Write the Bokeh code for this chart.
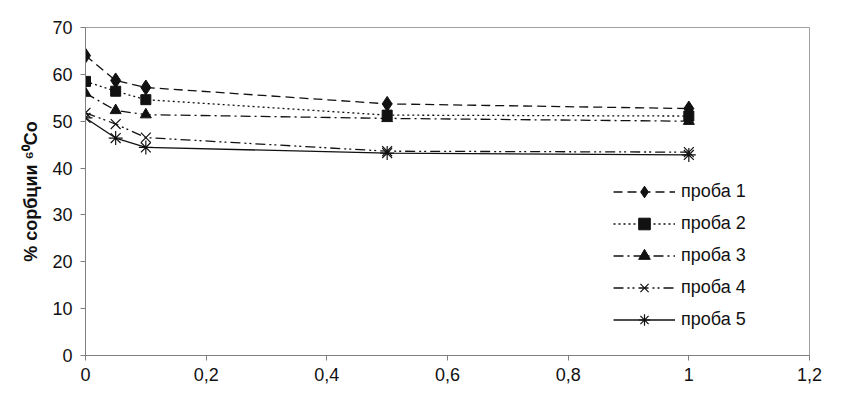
import math
from bokeh.plotting import figure
from bokeh.models import Range1d, FixedTicker, Legend, LegendItem
from bokeh.embed import file_html
from bokeh.resources import INLINE

# ---- data ----
x_vals = [0, 0.05, 0.1, 0.5, 1]
s1 = [64.0, 58.7, 57.2, 53.7, 52.7]
s2 = [58.5, 56.4, 54.6, 51.3, 51.1]
s3 = [56.0, 52.3, 51.4, 50.6, 50.0]
s4 = [51.8, 49.4, 46.5, 43.6, 43.4]
s5 = [50.7, 46.4, 44.4, 43.2, 42.8]
series_names = ["проба 1", "проба 2", "проба 3", "проба 4", "проба 5"]
x_ticks = [0, 0.2, 0.4, 0.6, 0.8, 1.0, 1.2]
x_tick_labels = ["0", "0,2", "0,4", "0,6", "0,8", "1", "1,2"]
y_ticks = [0, 10, 20, 30, 40, 50, 60, 70]
y_label = "% сорбции \u2076\u2070Co"

FONT = "Liberation Sans"
INK = "#111111"

p = figure(width=830, height=386, output_backend="svg", toolbar_location=None,
           x_range=Range1d(0, 1.2), y_range=Range1d(0, 70),
           min_border_left=85, min_border_right=21, min_border_top=27, min_border_bottom=31)
p.background_fill_color = "white"
p.border_fill_color = "white"
p.outline_line_color = "#a0a0a0"
p.outline_line_width = 1
p.xgrid.visible = False
p.ygrid.visible = False

p.xaxis.ticker = FixedTicker(ticks=x_ticks)
p.xaxis.major_label_overrides = {t: l for t, l in zip(x_ticks, x_tick_labels)}
p.yaxis.ticker = FixedTicker(ticks=y_ticks)
for ax in (p.xaxis, p.yaxis):
    ax.axis_line_color = "#808080"
    ax.major_tick_line_color = "#808080"
    ax.major_tick_in = 0
    ax.major_tick_out = 5
    ax.minor_tick_line_color = None
    ax.major_label_text_font = FONT
    ax.major_label_text_font_size = "18px"
    ax.major_label_text_color = INK
p.xaxis.major_label_standoff = 7
p.yaxis.major_label_standoff = 8
p.yaxis.axis_label = y_label
p.yaxis.axis_label_text_font = FONT
p.yaxis.axis_label_text_font_size = "18px"
p.yaxis.axis_label_text_font_style = "bold"
p.yaxis.axis_label_text_color = INK
p.yaxis.axis_label_standoff = 8

ys = [s1, s2, s3, s4, s5]
dashes = ["9 5", "2 3", "10 4 2 4", "10 4 2 3 2 4", "solid"]
markers = ["diamond", "square", "triangle", "x", "asterisk"]
sizes = [15, 10, 11, 14, 14]
items = []
for y, d, name, m, s in zip(ys, dashes, series_names, markers, sizes):
    rs = [p.line(x_vals, y, line_color=INK, line_width=1.3, line_dash=d)]
    if m in ("x", "asterisk"):
        rs.append(p.scatter(x_vals, y, marker=m, size=s, line_color=INK, line_width=1.2))
    else:
        rs.append(p.scatter(x_vals, y, marker=m, size=s, fill_color=INK, line_color=INK))
    items.append(LegendItem(label=name, renderers=rs))

legend = Legend(items=items, location=(528, 21), glyph_width=62, glyph_height=29,
                label_height=29, spacing=3, padding=0, margin=0, label_standoff=6,
                border_line_color=None, background_fill_alpha=0,
                label_text_font=FONT, label_text_font_size="18px", label_text_color=INK)
p.add_layout(legend)

open("out.html", "w").write(file_html(p, INLINE))
